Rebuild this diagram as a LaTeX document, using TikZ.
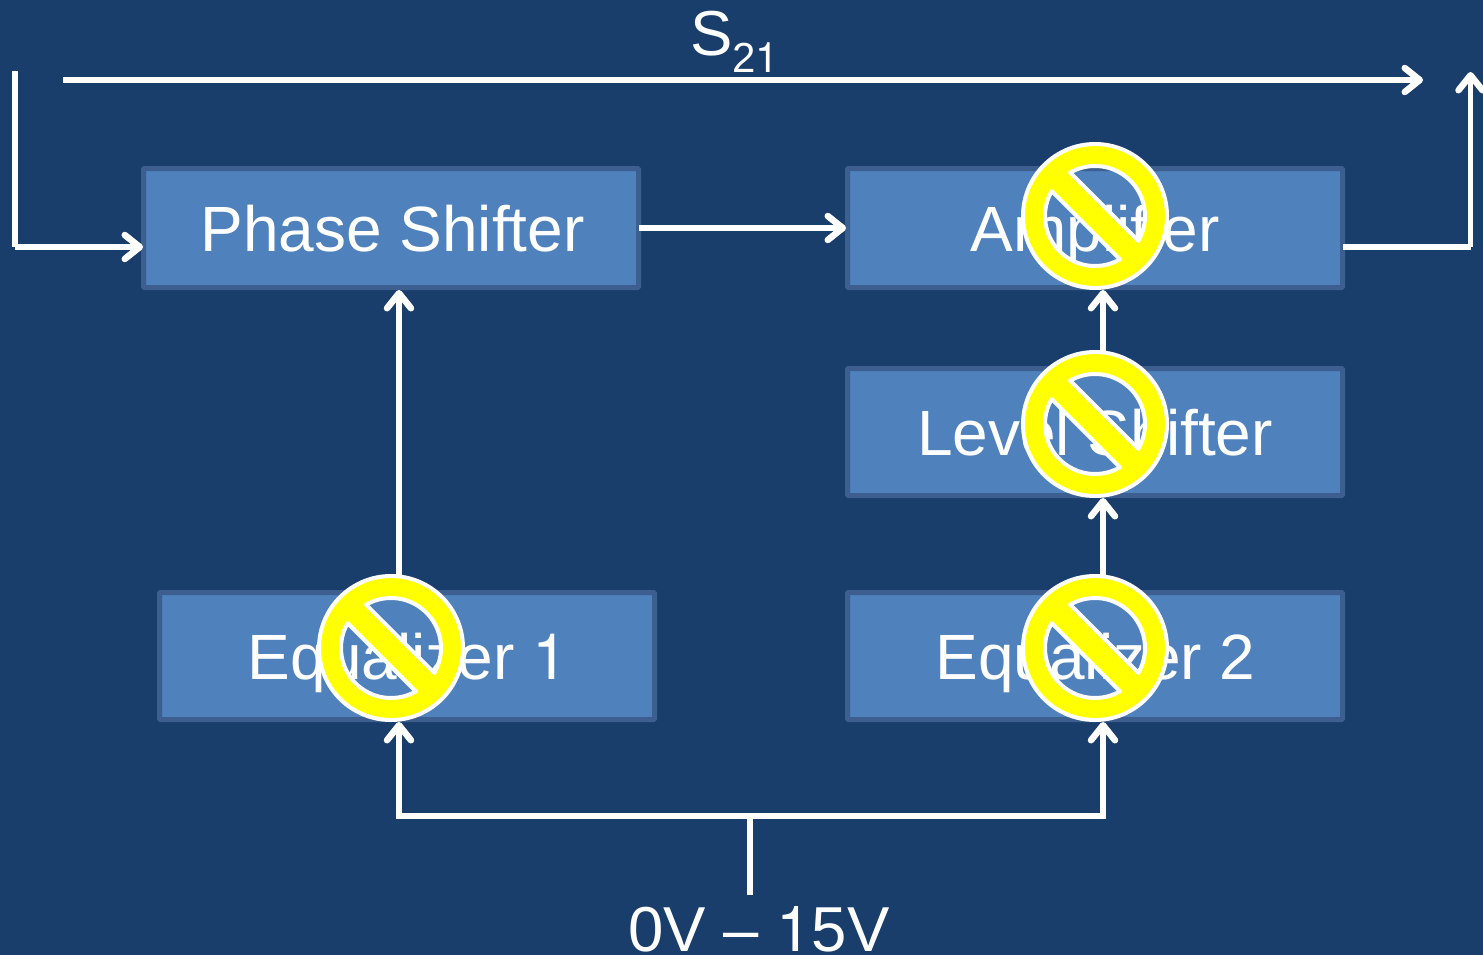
\documentclass[tikz,border=0pt]{standalone}
\usepackage{fontspec}
\setmainfont{Liberation Sans}
\newfontfamily\heros{TeX Gyre Heros}
\usetikzlibrary{arrows.meta}
\definecolor{bgblue}{HTML}{1A3E6C}
\definecolor{boxfill}{HTML}{4F81BD}
\definecolor{boxline}{HTML}{3D5F8F}
\definecolor{signyellow}{HTML}{FFFF00}
\newcommand{\plainone}{{\heros 1}}
\tikzset{
  x=1pt,y=-1pt,
  stagebox/.style={draw=boxline,fill=boxfill,line width=5pt,minimum width=495pt,text=white,
    font=\fontsize{64}{64}\selectfont,text height=46pt,text depth=0pt,inner sep=0pt,outer sep=2.5pt,anchor=center,rounded corners=1pt},
  wire/.style={draw=white,line width=5.5pt},
  arrowwire/.style={wire,-{Straight Barb[length=15pt,width=24pt,line width=6.5pt,round]}},
  biglabel/.style={text=white,font=\fontsize{63.5}{64}\selectfont,inner sep=0pt},
  pics/nosign/.style={code={
    \path[fill=signyellow,draw=white,line width=4pt,line join=round,even odd rule]
      (0,0) circle [radius=72pt]
      (-29.9:50pt) arc [start angle=-29.9,end angle=119.9,radius=50pt] -- cycle
      (150.1:50pt) arc [start angle=150.1,end angle=299.9,radius=50pt] -- cycle;
  }}
}
\begin{document}
\begin{tikzpicture}
\path[use as bounding box,fill=bgblue] (0,0) rectangle (1483,955);
\node[stagebox,minimum height=119pt] (phase) at (391,228) {\hspace{3pt}Phase Shifter};
\node[stagebox,minimum height=119pt] (amp) at (1095,228) {Amplifier};
\node[stagebox,minimum height=127pt] (level) at (1095,432) {Level Shifter};
\node[stagebox,minimum height=127pt] (eqa) at (407,656) {\hspace{2pt}Equalizer \plainone};
\node[stagebox,minimum height=127pt] (eqb) at (1095,656) {\hspace{1pt}Equalizer 2};
\node[biglabel,anchor=base west] (stwo) at (690,56) {S\raisebox{-17pt}{\fontsize{42}{42}\selectfont 2\plainone}};
\node[biglabel,anchor=base] (volt) at (759,951.5) {0V – \plainone5V};
\coordinate (inTop) at (15,71);
\coordinate (inCorner) at (15,247);
\coordinate (sStart) at (63,80);
\coordinate (sEnd) at (1423,80);
\coordinate (outCorner) at (1470.5,247);
\coordinate (outEnd) at (1470.5,72);
\coordinate (busLeft) at (399,816);
\coordinate (busRight) at (1103,816);
\coordinate (busMid) at (750,816);
\coordinate (voltTop) at (750,895);
\draw[wire] (inTop) -- (inCorner);
\draw[arrowwire] (inCorner) -- ([xshift=2pt]inCorner -| phase.west);
\draw[arrowwire] (sStart) -- (sEnd);
\draw[wire] ([xshift=-2pt]amp.east |- outCorner) -- (outCorner);
\draw[arrowwire] (outCorner) -- (outEnd);
\draw[arrowwire] ([xshift=-2pt]phase.east) -- ([xshift=1pt]amp.west);
\draw[arrowwire] ([xshift=-8pt]eqa.north) -- ([xshift=8pt]phase.south);
\draw[arrowwire] ([xshift=8pt]level.north) -- ([xshift=8pt]amp.south);
\draw[arrowwire] ([xshift=8pt]eqb.north) -- ([xshift=8pt]level.south);
\draw[wire] (voltTop) -- (busMid);
\draw[wire,line cap=rect] (busLeft) -- (busRight);
\draw[arrowwire] (busLeft) -- (busLeft |- eqa.south);
\draw[arrowwire] (busRight) -- (busRight |- eqb.south);
\pic at (1095,216) {nosign};
\pic at (1095,424) {nosign};
\pic at (391,648) {nosign};
\pic at (1095,648) {nosign};
\end{tikzpicture}
\end{document}
